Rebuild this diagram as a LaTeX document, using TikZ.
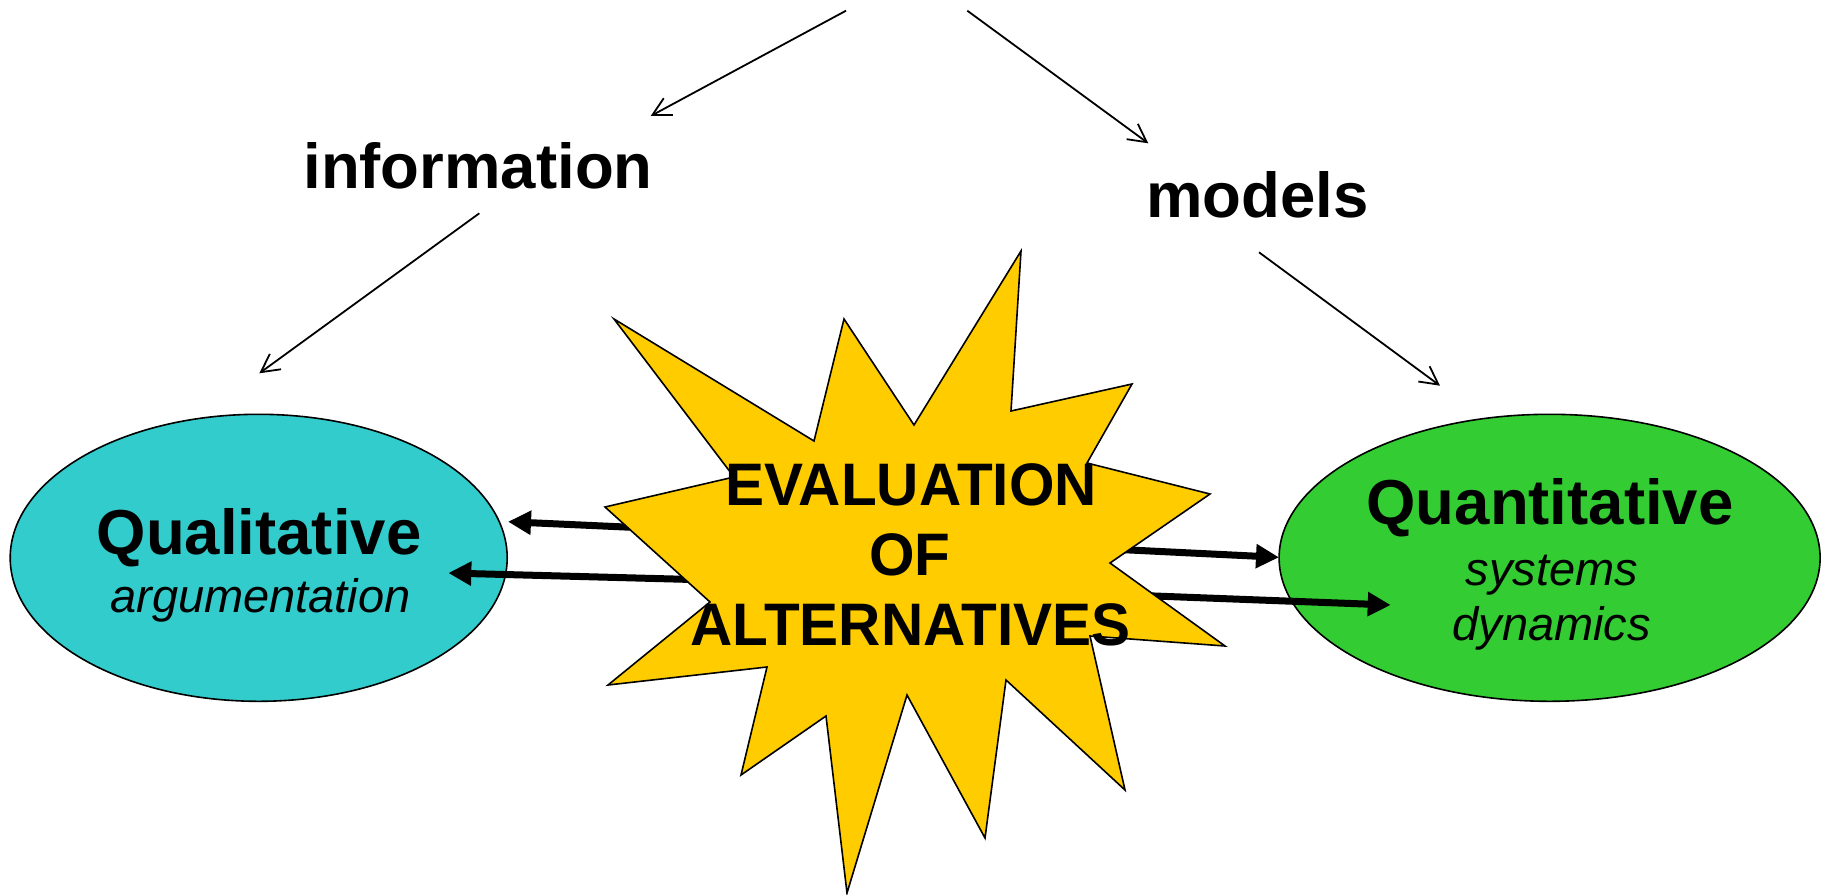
\documentclass[tikz,border=0pt]{standalone}
\usepackage{fontspec}
\setmainfont{Liberation Sans}
\usetikzlibrary{arrows.meta,shapes.geometric}
\definecolor{qualfill}{HTML}{33CCCC}
\definecolor{quantfill}{HTML}{33CC33}
\definecolor{starfill}{HTML}{FFCC00}
\begin{document}
\begin{tikzpicture}[x=1pt,y=-1pt,
  blob/.style={ellipse, draw=black, line width=1.6pt, inner sep=0pt},
  thinarrow/.style={line width=1.8pt, -{Straight Barb[length=18pt,width=19pt]}},
  thickarrow/.style={line width=7pt, -{Triangle[length=23pt,width=23pt]}},
  boldlabel/.style={font=\fontsize{63.5}{75}\selectfont\bfseries, inner sep=0pt, anchor=base},
  itlabel/.style={font=\fontsize{47}{56}\selectfont\itshape, inner sep=0pt, anchor=base},
  evallabel/.style={font=\fontsize{60}{70}\selectfont\bfseries, inner sep=0pt, anchor=base},
  starshape/.style={draw=black, line width=1.6pt, fill=starfill, line join=miter}]
\useasboundingbox (0,0) rectangle (1825,894);

% ellipses
\node[blob, fill=qualfill, minimum width=497pt, minimum height=287pt] (qual) at (258.7,557.8) {};
\node[blob, fill=quantfill, minimum width=541pt, minimum height=287pt] (quant) at (1549.6,557.8) {};

% thick arrows (behind the star)
\coordinate (lus) at (700,530.4);
\coordinate (lue) at (508,521.7);
\coordinate (lls) at (760,581.3);
\coordinate (lle) at (448.3,573);
\coordinate (rus) at (1050,546.1);
\coordinate (rue) at (1279,557.3);
\coordinate (rls) at (1060,592.4);
\coordinate (rle) at (1390.7,605);
\draw[thickarrow] (lus) -- (lue);
\draw[thickarrow] (lls) -- (lle);
\draw[thickarrow] (rus) -- (rue);
\draw[thickarrow] (rls) -- (rle);

% star
\draw[starshape] (614,319) -- (814,441) -- (844,319) -- (914,425) -- (1021,251)
  -- (1011,411) -- (1132,384) -- (1087,463) -- (1210,494) -- (1110,563)
  -- (1225,646) -- (1090,636) -- (1125,790) -- (1006,680) -- (985,838)
  -- (907,695) -- (847,893) -- (826,716) -- (741,775) -- (767,667)
  -- (608,685) -- (710,602) -- (605,507) -- (734,477) -- cycle;

% texts
\node[boldlabel] (info) at (478,188.3) {information};
\node[boldlabel] (models) at (1257.5,217.3) {models};
\node[boldlabel] (qualt) at (259,554) {Qualitative};
\node[itlabel] (argu) at (260.5,612.7) {argumentation};
\node[boldlabel] (quantt) at (1550,524) {Quantitative};
\node[itlabel] (sys) at (1551.7,585) {systems};
\node[itlabel] (dyn) at (1551.7,640) {dynamics};
\node[evallabel] (ev1) at (911,505.3) {\scalebox{0.975}[1]{EVALUATION}};
\node[evallabel] (ev2) at (910,575) {\scalebox{0.975}[1]{OF}};
\node[evallabel] (ev3) at (910.4,645) {\scalebox{0.975}[1]{ALTERNATIVES}};

% thin arrows
\coordinate (a1s) at (846,10.7);
\coordinate (a1e) at (650.7,116);
\coordinate (a2s) at (967.3,10.7);
\coordinate (a2e) at (1148.3,143.3);
\coordinate (a3s) at (479.3,213.3);
\coordinate (a3e) at (259.3,373.3);
\coordinate (a4s) at (1259,252.3);
\coordinate (a4e) at (1440,385.7);
\draw[thinarrow] (a1s) -- (a1e);
\draw[thinarrow] (a2s) -- (a2e);
\draw[thinarrow] (a3s) -- (a3e);
\draw[thinarrow] (a4s) -- (a4e);
\end{tikzpicture}
\end{document}
